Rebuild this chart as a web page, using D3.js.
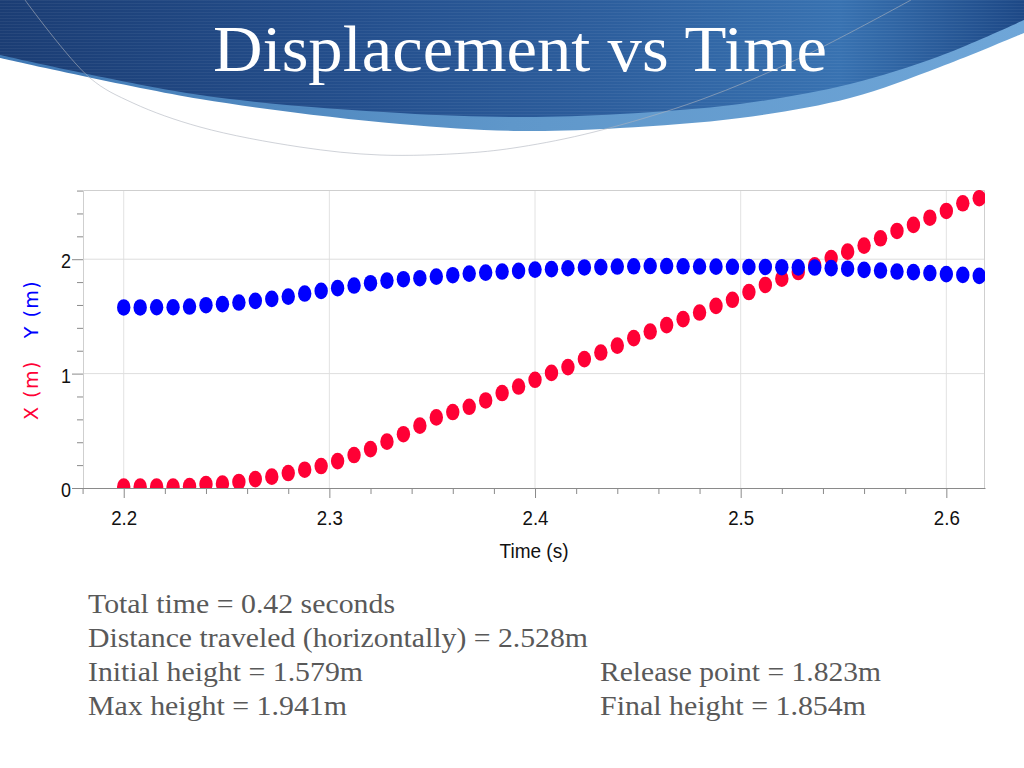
<!DOCTYPE html>
<html>
<head>
<meta charset="utf-8">
<script src="https://cdn.jsdelivr.net/npm/d3@7"></script>
<style>
  html, body { margin: 0; padding: 0; background: #fff; }
  svg { display: block; }
</style>
</head>
<body>
<script>
// ---------------- data ----------------
const titleText = "Displacement vs Time";
const timeS = [2.200,2.208,2.216,2.224,2.232,2.240,2.248,2.256,2.264,2.272,2.280,2.288,2.296,2.304,2.312,2.320,2.328,2.336,2.344,2.352,2.360,2.368,2.376,2.384,2.392,2.400,2.408,2.416,2.424,2.432,2.440,2.448,2.456,2.464,2.472,2.480,2.488,2.496,2.504,2.512,2.520,2.528,2.536,2.544,2.552,2.560,2.568,2.576,2.584,2.592,2.600,2.608,2.616];
const xMeters = [0.012,0.012,0.012,0.012,0.016,0.034,0.038,0.053,0.078,0.099,0.131,0.160,0.192,0.235,0.288,0.340,0.405,0.470,0.545,0.617,0.664,0.710,0.765,0.830,0.887,0.946,1.006,1.057,1.127,1.184,1.245,1.310,1.368,1.424,1.476,1.534,1.592,1.645,1.713,1.775,1.830,1.888,1.946,2.010,2.066,2.119,2.183,2.247,2.300,2.363,2.422,2.489,2.533];
const yMeters = [1.578,1.578,1.580,1.580,1.586,1.598,1.607,1.621,1.636,1.653,1.673,1.700,1.723,1.747,1.770,1.790,1.813,1.825,1.834,1.848,1.860,1.874,1.883,1.892,1.898,1.909,1.913,1.921,1.928,1.931,1.936,1.938,1.940,1.940,1.938,1.936,1.935,1.934,1.932,1.932,1.930,1.929,1.927,1.922,1.917,1.907,1.901,1.892,1.887,1.879,1.870,1.863,1.854];
const xTickLabels = ["2.2","2.3","2.4","2.5","2.6"];
const yTickLabels = ["0","1","2"];
const xAxisTitle = "Time (s)";
const yAxisTitleX = "X (m)";
const yAxisTitleY = "Y (m)";
const notesLeft = ["Total time = 0.42 seconds","Distance traveled (horizontally) = 2.528m","Initial height = 1.579m","Max height = 1.941m"];
const notesRight = ["Release point = 1.823m","Final height = 1.854m"];

// ---------------- layout ----------------
const W = 1024, H = 768;
const plot = {left: 83, right: 985, top: 190, bottom: 488};
const svg = d3.select("body").append("svg").attr("width", W).attr("height", H);
const defs = svg.append("defs");

// ---------------- banner ----------------
const gDark = defs.append("linearGradient").attr("id","gDark").attr("x1","0").attr("x2","1").attr("y1","0").attr("y2","0");
[["0","#1b3d74"],["0.35","#244f8d"],["0.6","#2d5f9e"],["0.82","#3872b1"],["1","#1d4886"]].forEach(s=>gDark.append("stop").attr("offset",s[0]).attr("stop-color",s[1]));
const gLight = defs.append("linearGradient").attr("id","gLight").attr("x1","0").attr("x2","1").attr("y1","0").attr("y2","0");
[["0","#3f78b4"],["0.5","#5f97ca"],["1","#6fa6d8"]].forEach(s=>gLight.append("stop").attr("offset",s[0]).attr("stop-color",s[1]));
const pat = defs.append("pattern").attr("id","stripes").attr("width",4).attr("height",3).attr("patternUnits","userSpaceOnUse");
pat.append("rect").attr("width",4).attr("height",1).attr("fill","rgba(255,255,255,0.05)");

const curve = d3.line().curve(d3.curveCatmullRom.alpha(0.5));
const lightEdge = [[0,58],[200,99],[400,124],[520,131],[620,128],[740,118],[850,98],[940,67],[1024,33]];
const darkEdge = [[0,55],[200,95],[400,113],[520,117],[620,114],[740,104],[850,84],[940,56],[1024,20]];
function bannerPath(edge){
  return "M0,0 L" + curve(edge).slice(1) + " L1024,0 Z";
}
svg.append("path").attr("d", bannerPath(lightEdge)).attr("fill","url(#gLight)");
svg.append("path").attr("d", bannerPath(darkEdge)).attr("fill","url(#gDark)");
svg.append("path").attr("d", bannerPath(darkEdge)).attr("fill","url(#stripes)");
// thin grey arc
const arcPts = [[25,0],[90,78],[133,103],[200,127],[300,147],[380,155],[467,153],[520,147],[594,132],[700,100],[800,58],[911,0]];
svg.append("path").attr("d", curve(arcPts)).attr("fill","none").attr("stroke","rgba(175,180,190,0.6)").attr("stroke-width",1);

svg.append("text").attr("x",520).attr("y",71).attr("text-anchor","middle")
  .attr("font-family","'Liberation Serif','Times New Roman',serif").attr("font-size",66)
  .attr("fill","#ffffff").attr("textLength",614).attr("lengthAdjust","spacingAndGlyphs")
  .text(titleText);

// ---------------- scales ----------------
const x = d3.scaleLinear().domain([2.1802, 2.6188]).range([plot.left, plot.right]);
const y = d3.scaleLinear().domain([0, 2.605]).range([plot.bottom, plot.top]);

const xMajor = xTickLabels.map(Number);
const yMajor = yTickLabels.map(Number);
const xMinor = d3.range(109, 131).map(k => k/50).filter(v => !xMajor.some(m => Math.abs(m - v) < 1e-6));
const yMinor = d3.range(0, 14).map(k => k/5).filter(v => !yMajor.some(m => Math.abs(m - v) < 1e-6));

// grid
const grid = svg.append("g");
grid.selectAll("line.gx").data(xMajor).join("line")
  .attr("x1", d=>x(d)).attr("x2", d=>x(d)).attr("y1", plot.top).attr("y2", plot.bottom)
  .attr("stroke","#e2e2e2").attr("stroke-width",1);
grid.selectAll("line.gy").data(yMajor.filter(d=>d>0)).join("line")
  .attr("x1", plot.left).attr("x2", plot.right).attr("y1", d=>y(d)).attr("y2", d=>y(d))
  .attr("stroke","#dedede").attr("stroke-width",1);
// frame
svg.append("path").attr("d", `M${plot.left+0.5},${plot.bottom} V${plot.top+0.5} H${plot.right-0.5} V${plot.bottom}`)
  .attr("fill","none").attr("stroke","#cfcfcf").attr("stroke-width",1);

// ---------------- points ----------------
defs.append("clipPath").attr("id","plotClip").append("rect")
  .attr("x",plot.left).attr("y",plot.top).attr("width",plot.right-plot.left).attr("height",plot.bottom-plot.top);
const pts = svg.append("g").attr("clip-path","url(#plotClip)");
const rows = timeS.map((t,i)=>({t, xm: xMeters[i], ym: yMeters[i]}));
pts.selectAll("ellipse.xs").data(rows).join("ellipse")
  .attr("cx", d=>x(d.t)).attr("cy", d=>y(d.xm)).attr("rx",6.7).attr("ry",8.3).attr("fill","#ff0035");
pts.selectAll("ellipse.ys").data(rows).join("ellipse")
  .attr("cx", d=>x(d.t)).attr("cy", d=>y(d.ym)).attr("rx",6.7).attr("ry",8.3).attr("fill","#0000ff");

// ---------------- axes ----------------
const tickFont = "'Liberation Sans',Arial,sans-serif";
const axisX = svg.append("g").attr("transform",`translate(0,${plot.bottom})`)
  .call(d3.axisBottom(x).tickValues(xMajor).tickSize(10).tickSizeOuter(0).tickPadding(13).tickFormat((d,i)=>xTickLabels[i]));
axisX.select(".domain").attr("stroke","#8a8a8a");
axisX.selectAll(".tick line").attr("stroke","#8a8a8a");
axisX.selectAll("text").attr("font-family",tickFont).attr("font-size",20).attr("fill","#111")
  .attr("textLength",26).attr("lengthAdjust","spacingAndGlyphs");
svg.append("g").attr("transform",`translate(0,${plot.bottom})`)
  .call(d3.axisBottom(x).tickValues(xMinor).tickSize(6).tickSizeOuter(0).tickFormat(""))
  .call(g=>g.select(".domain").remove())
  .selectAll(".tick line").attr("stroke","#8a8a8a");

const axisY = svg.append("g").attr("transform",`translate(${plot.left},0)`)
  .call(d3.axisLeft(y).tickValues(yMajor).tickSize(11).tickSizeOuter(0).tickPadding(1).tickFormat((d,i)=>yTickLabels[i]));
axisY.select(".domain").remove();
axisY.selectAll(".tick line").attr("stroke","#8a8a8a");
axisY.selectAll("text").attr("font-family",tickFont).attr("font-size",20).attr("fill","#111").attr("dy","0.42em")
  .attr("textLength",10).attr("lengthAdjust","spacingAndGlyphs");
svg.append("g").attr("transform",`translate(${plot.left},0)`)
  .call(d3.axisLeft(y).tickValues(yMinor).tickSize(6).tickSizeOuter(0).tickFormat(""))
  .call(g=>g.select(".domain").remove())
  .selectAll(".tick line").attr("stroke","#8a8a8a");
// x axis line extends under the y=0 tick
svg.append("line").attr("x1",72).attr("x2",plot.right).attr("y1",plot.bottom+0.5).attr("y2",plot.bottom+0.5)
  .attr("stroke","#8a8a8a").attr("stroke-width",1);

// axis titles
svg.append("text").attr("x",534).attr("y",558).attr("text-anchor","middle")
  .attr("font-family",tickFont).attr("font-size",21).attr("fill","#111")
  .attr("textLength",69).attr("lengthAdjust","spacingAndGlyphs").text(xAxisTitle);
svg.append("text").attr("transform","translate(38,390) rotate(-90)").attr("text-anchor","middle")
  .attr("font-family","'DejaVu Sans',Verdana,sans-serif").attr("font-size",19).attr("fill","#ff0035")
  .attr("letter-spacing",1.5).text(yAxisTitleX);
svg.append("text").attr("transform","translate(38,309) rotate(-90)").attr("text-anchor","middle")
  .attr("font-family","'DejaVu Sans',Verdana,sans-serif").attr("font-size",19).attr("fill","#0000ff")
  .attr("letter-spacing",1.5).text(yAxisTitleY);

// ---------------- notes ----------------
const noteFont = "'Liberation Serif','Times New Roman',serif";
const leftWidths = [307, 500, 275, 259];
const rightWidths = [281, 266];
const baseY = [613, 647, 681, 715];
svg.append("g").selectAll("text").data(notesLeft).join("text")
  .attr("x",88).attr("y",(d,i)=>baseY[i]).attr("font-family",noteFont).attr("font-size",28).attr("fill","#595959")
  .attr("textLength",(d,i)=>leftWidths[i]).attr("lengthAdjust","spacingAndGlyphs").text(d=>d);
svg.append("g").selectAll("text").data(notesRight).join("text")
  .attr("x",600).attr("y",(d,i)=>baseY[i+2]).attr("font-family",noteFont).attr("font-size",28).attr("fill","#595959")
  .attr("textLength",(d,i)=>rightWidths[i]).attr("lengthAdjust","spacingAndGlyphs").text(d=>d);
</script>
</body>
</html>
